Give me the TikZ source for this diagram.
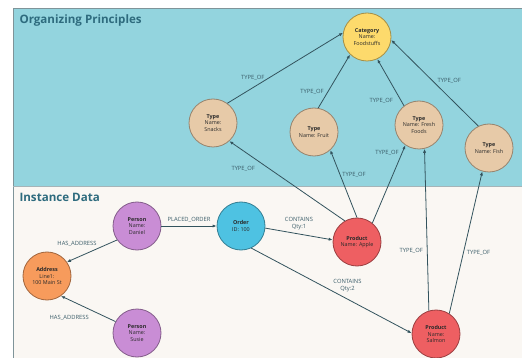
\documentclass[tikz,border=0pt]{standalone}
\usepackage{fontspec}
\setmainfont{Open Sans}
\setsansfont{Open Sans}
\definecolor{orgbg}{HTML}{93D4DE}
\definecolor{instbg}{HTML}{FAF7F3}
\definecolor{framegray}{HTML}{7F9499}
\definecolor{heading}{HTML}{2E6B7E}
\definecolor{edgecol}{HTML}{33535D}
\definecolor{lblcol}{HTML}{3A5C68}
\definecolor{darkbg}{HTML}{2A2A2A}
\definecolor{catcol}{HTML}{FDDA6C}
\definecolor{typecol}{HTML}{E7CAA8}
\definecolor{personcol}{HTML}{C98DD5}
\definecolor{ordercol}{HTML}{4EC2E2}
\definecolor{addrcol}{HTML}{F79B5C}
\definecolor{prodcol}{HTML}{EE5F62}
\usetikzlibrary{arrows.meta, positioning}
\tikzset{
  ent/.style={
    circle, fill=#1, draw=#1!65!black, line width=0.8pt,
    minimum size=48pt, inner sep=0pt, align=center,
    font=\fontsize{5.4}{6.4}\selectfont, text=darkbg
  },
  ent/.default=typecol,
  arr/.style={-{Latex[length=4pt,width=3.2pt]}, line width=0.8pt, color=edgecol},
  lbl/.style={font=\fontsize{5.8}{6.8}\selectfont, text=lblcol, inner sep=1pt, align=center},
  title/.style={font=\fontsize{11.6}{13}\selectfont\bfseries, text=heading, anchor=west},
}

\begin{document}
\begin{tikzpicture}[x=1pt, y=-1pt]
  \useasboundingbox (0,0) rectangle (522,358);

  % Sections
  \fill[white] (0,0) rectangle (522,358);
  \fill[orgbg] (13,8) rectangle (522,186);
  \fill[instbg] (13,186) rectangle (522,358);
  \draw[framegray, line width=0.6pt] (13,358) -- (13,8) -- (522,8);
  \draw[framegray!70, line width=0.6pt] (13,186) -- (522,186);
  \node[title] (orgtitle) at (16,20) {Organizing Principles};
  \node[title] (insttitle) at (16,197) {Instance Data};

  % Organizing principles
  \node[ent=catcol] (cat) at (367,37) {\textbf{Category}\\Name:\\Foodstuffs};
  \node[ent] (snacks) at (213,123) {\textbf{Type}\\Name:\\Snacks};
  \node[ent] (fruit) at (314,132) {\textbf{Type}\\Name: Fruit};
  \node[ent] (fresh) at (419,125) {\textbf{Type}\\Name: Fresh\\Foods};
  \node[ent] (fish) at (489,148) {\textbf{Type}\\Name: Fish};

  % Instance data
  \node[ent=personcol] (daniel) at (137,226) {\textbf{Person}\\Name:\\Daniel};
  \node[ent=ordercol] (order) at (241,226) {\textbf{Order}\\ID: 100};
  \node[ent=addrcol] (address) at (47,276) {\textbf{Address}\\Line1:\\100 Main St};
  \node[ent=personcol] (susie) at (137,333) {\textbf{Person}\\Name:\\Susie};
  \node[ent=prodcol] (apple) at (357,242) {\textbf{Product}\\Name: Apple};
  \node[ent=prodcol] (salmon) at (436,334) {\textbf{Product}\\Name:\\Salmon};

  % TYPE_OF edges
  \draw[arr] (snacks.54) -- node[lbl, pos=.22, above=6pt] {TYPE\_OF} (cat.170);
  \draw[arr] (fruit.80) -- node[lbl, pos=.31, left=3pt] {TYPE\_OF} (cat.226);
  \draw[arr] (fresh.128) -- node[lbl, pos=.1, left=7pt] {TYPE\_OF} (cat.295);
  \draw[arr] (fish.116) -- node[lbl, pos=.53, right=4pt] {TYPE\_OF} (cat.353);
  \draw[arr] (apple.120) -- node[lbl, pos=.88, below=14pt] {TYPE\_OF} (snacks.312);
  \draw[arr] (apple.90) -- node[lbl, pos=.64, right=1pt] {TYPE\_OF} (fruit.312);
  \draw[arr] (apple.51) -- node[lbl, pos=.9, left=2pt] {TYPE\_OF} (fresh.236);
  \draw[arr] (salmon.107) -- node[lbl, pos=.37, left=3pt] {TYPE\_OF} (fresh.283);
  \draw[arr] (salmon.57) -- node[lbl, pos=.43, right=2pt] {TYPE\_OF} (fish.254);

  % Instance edges
  \draw[arr] (daniel) -- node[lbl, pos=.5, above=2pt] {PLACED\_ORDER} (order);
  \draw[arr] (daniel.215) -- node[lbl, pos=.8, above=10pt] {HAS\_ADDRESS} (address.35);
  \draw[arr] (susie.152) -- node[lbl, pos=.85, below=14pt] {HAS\_ADDRESS} (address.305);
  \draw[arr] (order.355) -- node[lbl, pos=.5, above=3pt] {CONTAINS\\Qty:1} (apple.175);
  \draw[arr] (order.295) -- node[lbl, pos=.6, above=6pt] {CONTAINS\\Qty:2} (salmon.178);
\end{tikzpicture}
\end{document}
